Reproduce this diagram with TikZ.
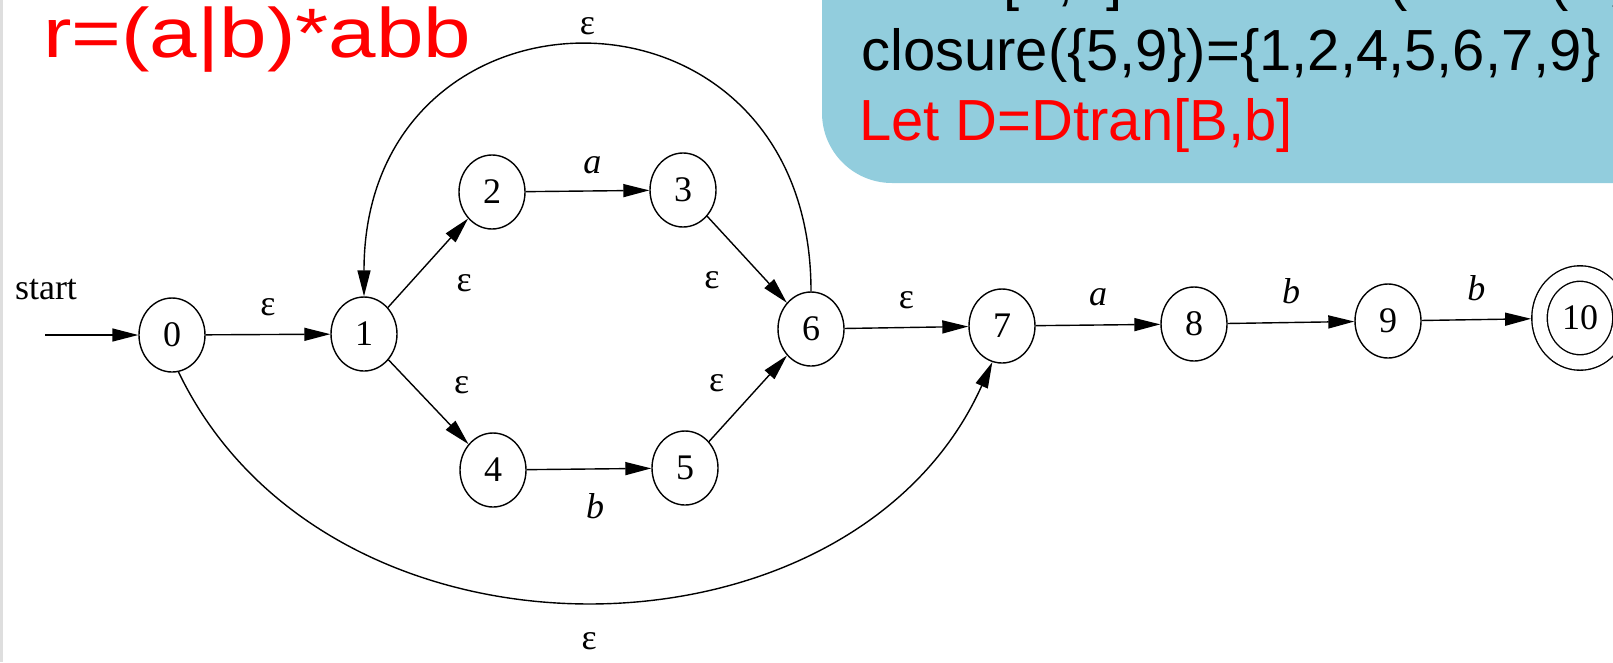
\documentclass[tikz,border=0pt]{standalone}
\usepackage{fontspec}
\setmainfont{Liberation Serif}
\newfontfamily\slidefont{Liberation Sans}
\usepackage{graphicx}
\usepackage{tikz}
\usetikzlibrary{arrows.meta,shapes.geometric}
\definecolor{boxblue}{RGB}{146,205,221}
\definecolor{slidered}{RGB}{255,0,0}
\definecolor{edgegray}{RGB}{222,222,222}

\begin{document}
\begin{tikzpicture}[x=1pt,y=-1pt,
    state/.style={draw, ellipse, line width=1.4pt, minimum width=66pt, minimum height=74pt,
      inner sep=0pt, font=\fontsize{36}{36}\selectfont},
    accept/.style={state, double, double distance=14pt, minimum width=81pt, minimum height=89pt,
      outer sep=8.4pt},
    trans/.style={-{Triangle[length=26pt,width=13pt]}, line width=1.4pt},
    lbl/.style={inner sep=0pt, font=\fontsize{36}{36}\selectfont},
    slidetext/.style={anchor=base west, inner sep=0pt, font=\slidefont\fontsize{58}{58}\selectfont}]
  \useasboundingbox (0,0) rectangle (1613,662);
  \clip (0,0) rectangle (1613,662);
  % slide frame and note box
  \fill[edgegray] (0,0) rectangle (2.5,662);
  \fill[boxblue, rounded corners=70pt] (822,-120) rectangle (1760,183);
  \node[slidetext] (line1) at (861,-1) {Dtran[B,b]=ε-closure(move(B,b))};
  \node[slidetext] (line2) at (861,70) {closure(\{5,9\})=\{1,2,4,5,6,7,9\}};
  \node[slidetext, text=slidered] (line3) at (859,140) {Let D=Dtran[B,b]};
  % regular expression
  \node[anchor=base west, inner sep=0pt, text=slidered, font=\slidefont\fontsize{70}{70}\selectfont]
    (regex) at (43,57) {\scalebox{1.22}[1]{r=(a|b)*abb}};

  % states
  \node[state] (n0) at (172,335) {0};
  \node[state] (n1) at (364,334) {1};
  \node[state] (n2) at (492,192) {2};
  \node[state] (n3) at (683,190) {3};
  \node[state] (n4) at (493,470) {4};
  \node[state] (n5) at (685,468) {5};
  \node[state] (n6) at (811,329) {6};
  \node[state] (n7) at (1002,326) {7};
  \node[state] (n8) at (1194,324) {8};
  \node[state] (n9) at (1388,321) {9};
  \node[accept] (n10) at (1580,318) {10};

  % start arrow
  \coordinate (s) at (45,335);
  \node[lbl] (start) at (46,290) {start};
  \draw[trans] (s) -- (n0);

  % transitions
  \draw[trans] (n0) -- node[lbl, above=18pt] {ε} (n1);
  \draw[trans] (n1) -- node[lbl, pos=0.275, right=46pt] {ε} (n2);
  \draw[trans] (n1) -- node[lbl, pos=0.3, right=41pt] {ε} (n4);
  \draw[trans] (n2) -- node[lbl, pos=0.54, above=16pt] {\textit{a}} (n3);
  \draw[trans] (n4) -- node[lbl, pos=0.55, below=24pt] {\textit{b}} (n5);
  \draw[trans] (n3) -- node[lbl, pos=0.74, left=46pt] {ε} (n6);
  \draw[trans] (n5) -- node[lbl, pos=0.68, left=37pt] {ε} (n6);
  \draw[trans] (n6) -- node[lbl, above=18pt] {ε} (n7);
  \draw[trans] (n7) -- node[lbl, above=18pt] {\textit{a}} (n8);
  \draw[trans] (n8) -- node[lbl, above=18pt] {\textit{b}} (n9);
  \draw[trans] (n9) -- node[lbl, above=18pt] {\textit{b}} (n10);

  % loop back and skip
  \draw[trans] (n6.north) .. controls +(0,-330) and +(0,-330) .. node[lbl, above=11pt] {ε} (n1.north);
  \draw[trans] (n0.-80) .. controls +(150,312) and +(-140,312) .. node[lbl, below=31pt] {ε} (n7.-105);
\end{tikzpicture}
\end{document}
